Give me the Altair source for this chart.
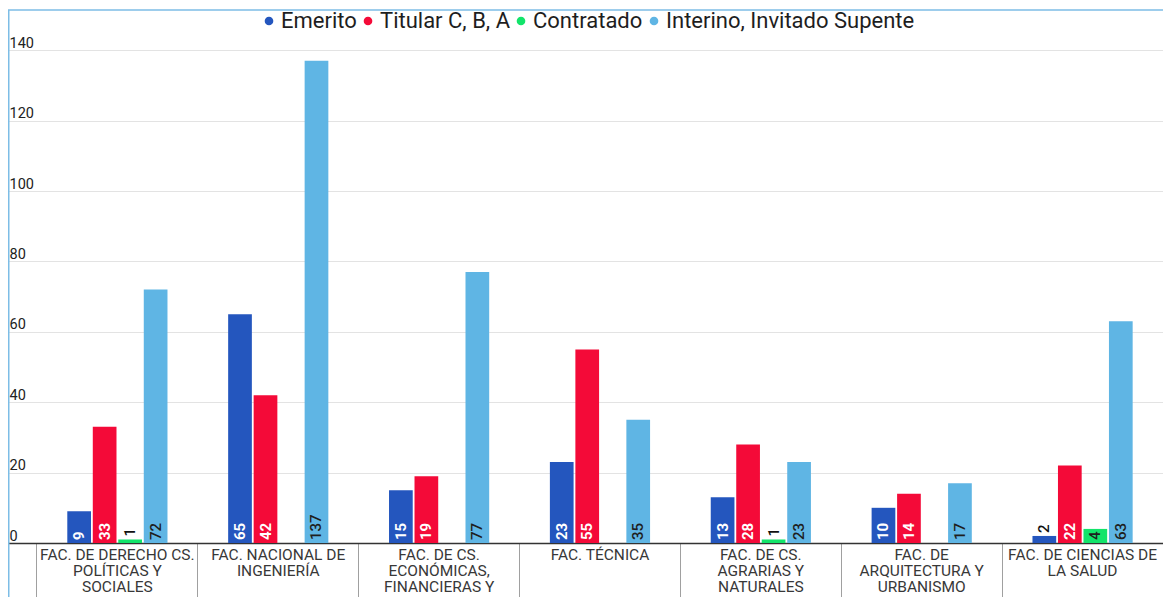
import altair as alt
import pandas as pd

facultades = [
    "FAC. DE DERECHO CS.|POLÍTICAS Y|SOCIALES",
    "FAC. NACIONAL DE|INGENIERÍA",
    "FAC. DE CS.|ECONÓMICAS,|FINANCIERAS Y|ADMINISTRATIVAS",
    "FAC. TÉCNICA",
    "FAC. DE CS.|AGRARIAS Y|NATURALES",
    "FAC. DE|ARQUITECTURA Y|URBANISMO",
    "FAC. DE CIENCIAS DE|LA SALUD",
]
series = ["Emerito", "Titular C, B, A", "Contratado", "Interino, Invitado Supente"]
emerito = [9, 65, 15, 23, 13, 10, 2]
titular = [33, 42, 19, 55, 28, 14, 22]
contratado = [1, None, None, None, 1, None, 4]
interino = [72, 137, 77, 35, 23, 17, 63]
colors = ["#2456be", "#f40a38", "#12e46a", "#5fb5e4"]
y_ticks = [0, 20, 40, 60, 80, 100, 120, 140]

rows = []
for s, vals in zip(series, [emerito, titular, contratado, interino]):
    for f, v in zip(facultades, vals):
        if v is not None:
            rows.append({"fac": f, "serie": s, "valor": v})
df = pd.DataFrame(rows)

W, H = 1155, 535
P_OUT = 0.09

x_enc = alt.X(
    "fac:N",
    sort=facultades,
    scale=alt.Scale(domain=facultades, paddingInner=0, paddingOuter=P_OUT, align=1),
    axis=alt.Axis(
        title=None, bandPosition=0, tickSize=62, tickColor="#a0a0a0", tickWidth=1,
        domainColor="#333333", domainWidth=1.5,
        labelPadding=-58,
        labelExpr="split(datum.label, '|')",
        labelFont="Roboto", labelFontSize=15.5, labelColor="#383838",
        labelLineHeight=16, labelBaseline="top", labelOverlap=False,
        labelLimit=250, labelAngle=0,
    ),
)
# empty slots at both ends of each group keep the four bars centred and narrow
offset_domain = ["", *series, " "]
xoff = alt.XOffset(
    "serie:N",
    scale=alt.Scale(domain=offset_domain, paddingInner=0.07, paddingOuter=0.19),
)
y_axis = alt.Axis(
    title=None, values=y_ticks, domain=False, ticks=False, tickSize=0,
    grid=True, gridColor="#e3e3e3", gridWidth=1,
    labelAlign="left", labelPadding=-1, labelBaseline="bottom",
    labelFont="Roboto", labelFontSize=14.5, labelColor="#222222",
)
y_scale = alt.Scale(domain=[0, 152], nice=False)
y_enc = alt.Y("valor:Q", scale=y_scale, axis=y_axis)

color_enc = alt.Color(
    "serie:N", sort=series,
    scale=alt.Scale(domain=series, range=colors),
    legend=alt.Legend(
        title=None, orient="none", legendX=250, legendY=2, direction="horizontal",
        symbolType="circle", symbolSize=75, symbolStrokeWidth=0,
        labelFont="Roboto", labelFontSize=22, labelColor="#1e1e1e",
        columnPadding=-7, labelOffset=1, padding=0, labelLimit=500,
    ),
)

base = alt.Chart(df)

bars = base.mark_bar().encode(x=x_enc, xOffset=xoff, y=y_enc, color=color_enc)

lab_white = base.transform_filter(
    "datum.valor >= 3 && (datum.serie == 'Emerito' || datum.serie == 'Titular C, B, A')"
).mark_text(
    angle=270, align="left", baseline="middle", dx=3,
    font="Roboto", fontSize=15, fontWeight="bold", color="white",
).encode(x=x_enc, xOffset=xoff, y=alt.datum(0, scale=y_scale, axis=y_axis), text="valor:Q")

lab_dark = base.transform_filter(
    "datum.valor >= 3 && (datum.serie == 'Contratado' || datum.serie == 'Interino, Invitado Supente')"
).mark_text(
    angle=270, align="left", baseline="middle", dx=3,
    font="Roboto", fontSize=15, fontWeight=500, color="#1e1e1e",
).encode(x=x_enc, xOffset=xoff, y=alt.datum(0, scale=y_scale, axis=y_axis), text="valor:Q")

lab_above = base.transform_filter("datum.valor < 3").mark_text(
    angle=270, align="left", baseline="middle", dx=3,
    font="Roboto", fontSize=15, fontWeight=500, color="#111111",
).encode(x=x_enc, xOffset=xoff, y=y_enc, text="valor:Q")

frame_data = alt.Data(values=[{"k": 0}])
frame_top = alt.Chart(frame_data).mark_rule(color="#7dbde6", strokeWidth=1.5).encode(
    x=alt.value(0), x2=alt.value(W), y=alt.value(2)
)
frame_left = alt.Chart(frame_data).mark_rule(color="#7dbde6", strokeWidth=1.5).encode(
    x=alt.value(0.75), y=alt.value(2), y2=alt.value(H + 60)
)

chart = (
    alt.layer(frame_top, frame_left, bars, lab_white, lab_dark, lab_above)
    .properties(
        width=W, height=H,
        padding={"left": 0, "top": 0, "right": 0, "bottom": 54},
        autosize=alt.AutoSizeParams(type="none"),
    )
    .configure(font="Roboto")
    .configure_view(stroke=None)
)

chart.save("out.html", embed_options={"renderer": "svg", "actions": False})
